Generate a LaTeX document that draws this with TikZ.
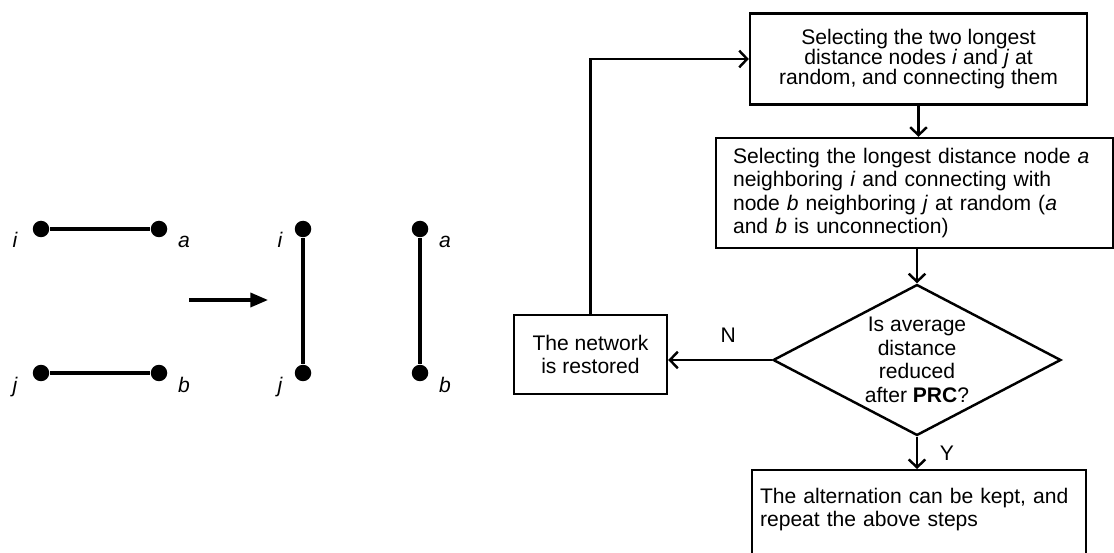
\documentclass[tikz,border=0pt]{standalone}
\usepackage{fontspec}
\setmainfont{Liberation Sans}
\usetikzlibrary{shapes.geometric,arrows.meta}

\begin{document}
\begin{tikzpicture}[x=0.02cm,y=-0.02cm,>={Straight Barb[length=4.5pt,width=9.5pt]}]
		\tikzstyle{BOX} = [draw, line width=1.4pt, inner sep=0pt, font=\fontsize{12}{13.4}\selectfont]
		\tikzstyle{pick} = [BOX, minimum width=6.74cm, minimum height=1.82cm, align=center, font=\fontsize{12}{11.6}\selectfont]
		\tikzstyle{link} = [BOX, minimum width=7.94cm, minimum height=2.2cm, text width=7.26cm, align=left]
		\tikzstyle{test} = [BOX, diamond, aspect=1.9, minimum width=5.76cm, minimum height=3.02cm, align=center]
		\tikzstyle{undo} = [BOX, minimum width=3.06cm, minimum height=1.58cm, align=center]
		\tikzstyle{keep} = [BOX, anchor=north, minimum width=6.68cm, text width=6.36cm, inner xsep=0.16cm, inner ysep=0.35cm, text depth=1.6cm, align=left]
		\tikzstyle{flow} = [line width=1.4pt]
		\tikzstyle{dot} = [circle, fill, inner sep=0pt, minimum size=0.33cm]
		\tikzstyle{edge} = [line width=1.8pt]
		\tikzstyle{lbl} = [anchor=base, inner sep=0pt, font=\fontsize{12}{14}\selectfont\itshape]
		\tikzstyle{yn} = [font=\fontsize{12}{14}\selectfont]

		\useasboundingbox (0,0) rectangle (1114,553);

		% before
		\node[dot] (iA) at (41,229) {};
		\node[dot] (aA) at (159,229) {};
		\node[dot] (jA) at (41,373) {};
		\node[dot] (bA) at (159,373) {};
		\node[lbl] (iAl) at (15,248) {i};
		\node[lbl] (aAl) at (184,248) {a};
		\node[lbl] (jAl) at (15,392) {j};
		\node[lbl] (bAl) at (184,392) {b};
		\draw[edge] (iA) -- (aA);
		\draw[edge] (jA) -- (bA);

		\coordinate (goS) at (189,300);
		\coordinate (goE) at (268,300);
		\draw[-{Triangle[length=10pt,width=8pt]}, edge] (goS) -- (goE);

		% after
		\node[dot] (iB) at (303,229) {};
		\node[dot] (jB) at (303,373) {};
		\node[dot] (aB) at (420,229) {};
		\node[dot] (bB) at (420,373) {};
		\node[lbl] (iBl) at (280,248) {i};
		\node[lbl] (jBl) at (280,392) {j};
		\node[lbl] (aBl) at (445,248) {a};
		\node[lbl] (bBl) at (445,392) {b};
		\draw[edge] (iB) -- (jB);
		\draw[edge] (aB) -- (bB);

		% flow chart
		\node[pick] (sPick) at (918.5,59) {Selecting the two longest\\distance nodes \textit{i} and \textit{j} at\\random, and connecting them};
		\node[link] (sLink) at (914.5,193) {Selecting the longest distance node \textit{a}\\neighboring \textit{i} and connecting with\\node \textit{b} neighboring \textit{j} at random (\textit{a}\\and \textit{b} is unconnection)};
		\node[test] (dTest) at (917,360) {Is average\\distance\\reduced\\after \textbf{PRC}?};
		\node[undo] (sUndo) at (590.5,354.5) {The network\\is restored};
		\node[keep] (sKeep) at (919,469) {The alternation can be kept, and\\repeat the above steps};

		\draw[->, flow] (sPick.south) -- (sPick.south |- sLink.north);
		\draw[->, flow] (dTest.north |- sLink.south) -- (dTest.north);
		\draw[->, flow] (dTest.west) -- node[yn, above=6pt, pos=0.42] {N} (dTest.west -| sUndo.east);
		\draw[->, flow] (sUndo.north) |- (sPick.west);
		\draw[->, flow] (dTest.south) -- node[yn, right=9pt] {Y} (dTest.south |- sKeep.north);
\end{tikzpicture}
\end{document}
